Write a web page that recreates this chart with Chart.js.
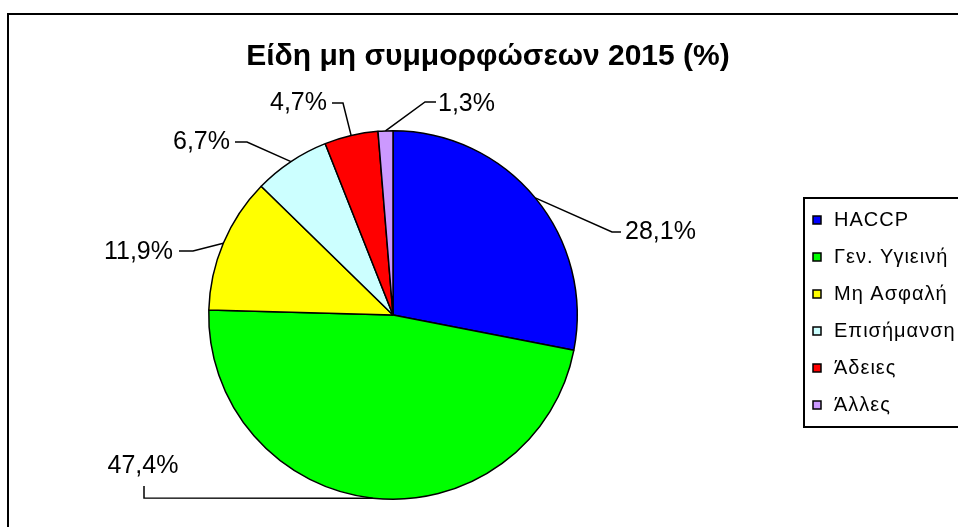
<!DOCTYPE html>
<html>
<head>
<meta charset="utf-8">
<script src="https://cdn.jsdelivr.net/npm/chart.js@4.4.1/dist/chart.umd.min.js"></script>
<style>
  html, body { margin: 0; padding: 0; background: #fff; }
  #wrap { width: 958px; height: 527px; }
</style>
</head>
<body>
<div id="wrap"><canvas id="pieChart" width="958" height="527"></canvas></div>
<script>
const chartTitle = "Είδη μη συμμορφώσεων 2015 (%)";
const categories = ["HACCP", "Γεν. Υγιεινή", "Μη Ασφαλή", "Επισήμανση", "Άδειες", "Άλλες"];
const shares = [28.1, 47.4, 11.9, 6.7, 4.7, 1.3];
const sliceColors = ["#0000ff", "#00ff00", "#ffff00", "#ccffff", "#ff0000", "#cc99ff"];

// label placement, offsets from pie centre (text anchor, elbow of leader, end of leader)
const labelLayout = [
    { tx: 232, ty: -83, align: "left", ex: 219, ey: -83, lx: 228, ly: -83 },
    { tx: -250, ty: 151, align: "center", ex: -249, ey: 183, lx: -249, ly: 171 },
    { tx: -220, ty: -63, align: "right", ex: -200, ey: -64, lx: -214, ly: -64 },
    { tx: -163, ty: -173, align: "right", ex: -146, ey: -173, lx: -158, ly: -173 },
    { tx: -66, ty: -212, align: "right", ex: -50, ey: -212, lx: -61, ly: -212 },
    { tx: 45, ty: -211, align: "left", ex: 32, ey: -213, lx: 43, ly: -213 }
];

const fmt = v => v.toFixed(1).replace(".", ",") + "%";

const decorPlugin = {
    id: "decor",
    afterDraw(chart) {
        const ctx = chart.ctx;
        ctx.save();

        // outer frame (runs off the right and bottom)
        ctx.strokeStyle = "#000";
        ctx.lineWidth = 2;
        ctx.strokeRect(8, 14, 1000, 600);

        // title
        ctx.fillStyle = "#000";
        ctx.font = "bold 30px 'Liberation Sans', Arial, sans-serif";
        ctx.textAlign = "center";
        ctx.textBaseline = "middle";
        ctx.fillText(chartTitle, 488, 57);

        // data labels with leader lines
        const arcs = chart.getDatasetMeta(0).data;
        ctx.font = "25px 'Liberation Sans', Arial, sans-serif";
        ctx.lineWidth = 1.5;
        arcs.forEach((arc, i) => {
            const p = arc.getProps(["x", "y", "startAngle", "endAngle", "outerRadius"], true);
            const mid = (p.startAngle + p.endAngle) / 2;
            const lay = labelLayout[i];
            ctx.beginPath();
            ctx.moveTo(p.x + Math.cos(mid) * p.outerRadius, p.y + Math.sin(mid) * p.outerRadius);
            ctx.lineTo(p.x + lay.ex, p.y + lay.ey);
            ctx.lineTo(p.x + lay.lx, p.y + lay.ly);
            ctx.stroke();
            ctx.textAlign = lay.align;
            ctx.fillText(fmt(shares[i]), p.x + lay.tx, p.y + lay.ty);
        });

        // legend
        ctx.lineWidth = 2;
        ctx.strokeRect(804, 198, 300, 229);
        ctx.font = "20px 'Liberation Sans', Arial, sans-serif";
        ctx.letterSpacing = "1px";
        ctx.textAlign = "left";
        ctx.lineWidth = 1.5;
        categories.forEach((c, i) => {
            const y = 220 + i * 37;
            ctx.fillStyle = sliceColors[i];
            ctx.fillRect(813, y - 4, 8, 8);
            ctx.strokeRect(813, y - 4, 8, 8);
            ctx.fillStyle = "#000";
            ctx.fillText(c, 834, y);
        });
        ctx.restore();
    }
};

new Chart(document.getElementById("pieChart"), {
    type: "pie",
    data: {
        labels: categories,
        datasets: [{
            data: shares,
            backgroundColor: sliceColors,
            borderColor: "#000",
            borderWidth: 1.5
        }]
    },
    options: {
        responsive: false,
        animation: false,
        events: [],
        devicePixelRatio: 1,
        layout: { padding: { left: 208, right: 380, top: 130, bottom: 27 } },
        plugins: {
            legend: { display: false },
            tooltip: { enabled: false }
        }
    },
    plugins: [decorPlugin]
});
</script>
</body>
</html>
